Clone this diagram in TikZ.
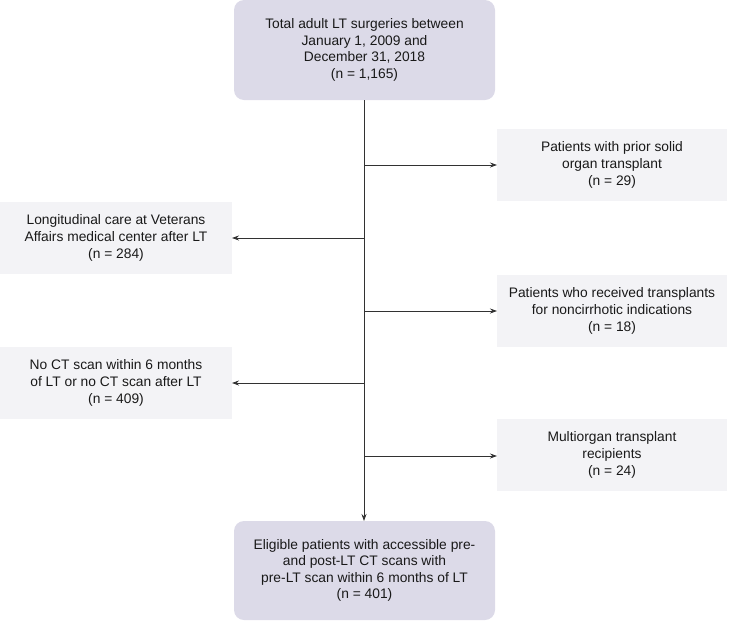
\documentclass[tikz,border=0pt]{standalone}
\usepackage{fontspec}
\setmainfont{Liberation Sans}
\usetikzlibrary{arrows.meta}
\definecolor{mainfill}{RGB}{220,218,232}
\definecolor{sidefill}{RGB}{243,243,246}
\definecolor{linec}{RGB}{50,50,50}
\begin{document}
\begin{tikzpicture}[x=1pt,y=-1pt,
  txt/.style={font=\fontsize{13.8}{16.6}\selectfont, align=center, text=black!90},
  mainbox/.style={fill=mainfill, rounded corners=10pt},
  sidebox/.style={fill=sidefill},
  conn/.style={draw=linec, line width=0.8pt, -{Stealth[length=7pt,width=5pt]}}]
\useasboundingbox (0,0) rectangle (729,622);
% boxes
\path[mainbox] (234,0) rectangle (495,100);
\node[txt] (top) at (364.5,50) {Total adult LT surgeries between\\January 1, 2009 and\\December 31, 2018\\(n = 1,165)};
\path[mainbox] (234,521) rectangle (495,620);
\node[txt] (bot) at (364.5,570.5) {Eligible patients with accessible pre-\\and post-LT CT scans with\\pre-LT scan within 6 months of LT\\(n = 401)};
\path[sidebox] (497,129) rectangle (727,201);
\node[txt] (r1) at (612,165) {Patients with prior solid\\organ transplant\\(n = 29)};
\path[sidebox] (0,202) rectangle (232,274);
\node[txt] (l1) at (116,238) {Longitudinal care at Veterans\\Affairs medical center after LT\\(n = 284)};
\path[sidebox] (497,275) rectangle (727,347);
\node[txt] (r2) at (612,311) {Patients who received transplants\\for noncirrhotic indications\\(n = 18)};
\path[sidebox] (0,347) rectangle (232,419);
\node[txt] (l2) at (116,383) {No CT scan within 6 months\\of LT or no CT scan after LT\\(n = 409)};
\path[sidebox] (497,419) rectangle (727,491);
\node[txt] (r3) at (612,455) {Multiorgan transplant\\recipients\\(n = 24)};
% anchors
\coordinate (ttop) at (364,100);
\coordinate (tbot) at (364,521);
\coordinate (j1) at (364,165);
\coordinate (j2) at (364,238);
\coordinate (j3) at (364,311);
\coordinate (j4) at (364,383);
\coordinate (j5) at (364,456);
\coordinate (e1) at (497,165);
\coordinate (e2) at (232,238);
\coordinate (e3) at (497,311);
\coordinate (e4) at (232,383);
\coordinate (e5) at (497,456);
\draw[conn] (ttop) -- (tbot);
\draw[conn] (j1) -- (e1);
\draw[conn] (j2) -- (e2);
\draw[conn] (j3) -- (e3);
\draw[conn] (j4) -- (e4);
\draw[conn] (j5) -- (e5);
\end{tikzpicture}
\end{document}
